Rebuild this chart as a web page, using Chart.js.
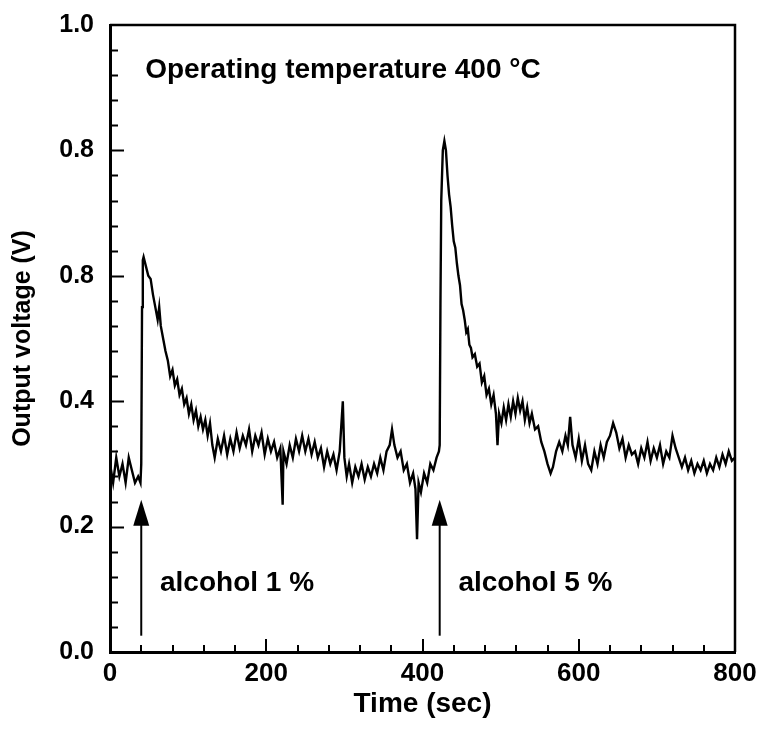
<!DOCTYPE html>
<html>
<head>
<meta charset="utf-8">
<script src="https://cdn.jsdelivr.net/npm/chart.js@4"></script>
<style>
  body { margin: 0; background: #fff; }
</style>
</head>
<body>
<canvas id="myChart" width="763" height="745"></canvas>
<script>
// time axis (sec) and sensor output (V)
var timeSec = [
  0, 4, 8, 12, 16, 20, 24, 28, 32, 36,
  39, 40, 41, 42, 43, 46, 49, 52, 55, 58,
  61, 63, 65, 68, 71, 74, 77, 80, 83, 86,
  89, 92, 95, 98, 101, 104, 107, 110, 113, 116,
  119, 122, 125, 128, 131, 134, 138, 142, 146, 150,
  154, 158, 162, 166, 170, 174, 178, 182, 186, 190,
  194, 198, 202, 206, 210, 214, 218, 221, 222, 226,
  230, 234, 238, 242, 246, 250, 254, 258, 262, 266,
  270, 274, 278, 282, 286, 290, 294, 298, 300, 303,
  306, 310, 314, 318, 322, 326, 330, 334, 338, 342,
  346, 350, 354, 358, 361, 364, 368, 372, 376, 380,
  384, 388, 391, 393, 395, 398, 402, 406, 410, 414,
  418, 421, 422, 423, 424, 426, 428, 430, 432, 434,
  436, 438, 440, 442, 444, 446, 448, 450, 452, 454,
  456, 458, 460, 462, 464, 467, 470, 473, 476, 479,
  482, 485, 488, 491, 494, 496, 498, 501, 504, 507,
  510, 513, 516, 519, 522, 525, 528, 531, 534, 537,
  540, 544, 548, 552, 556, 560, 564, 567, 571, 575,
  579, 583, 586, 589, 592, 596, 600, 604, 608, 612,
  616, 620, 624, 628, 632, 636, 640, 644, 648, 652,
  656, 660, 664, 668, 672, 676, 680, 684, 688, 692,
  696, 700, 704, 708, 712, 716, 720, 724, 728, 732,
  736, 740, 744, 748, 752, 756, 760, 764, 768, 772,
  776, 780, 784, 788, 792, 796, 800
]
var outputVoltage = [
  0.30, 0.27, 0.31, 0.28, 0.30, 0.27, 0.31, 0.29, 0.27, 0.28,
  0.27, 0.30, 0.55, 0.625, 0.63, 0.615, 0.60, 0.595, 0.57, 0.55,
  0.53, 0.55, 0.52, 0.50, 0.48, 0.465, 0.44, 0.45, 0.425, 0.435,
  0.41, 0.42, 0.395, 0.405, 0.38, 0.395, 0.37, 0.385, 0.36, 0.375,
  0.355, 0.37, 0.345, 0.365, 0.33, 0.31, 0.34, 0.32, 0.345, 0.315,
  0.34, 0.32, 0.35, 0.325, 0.345, 0.33, 0.355, 0.32, 0.345, 0.33,
  0.35, 0.315, 0.34, 0.32, 0.335, 0.31, 0.325, 0.235, 0.32, 0.30,
  0.33, 0.31, 0.34, 0.32, 0.345, 0.32, 0.34, 0.315, 0.335, 0.31,
  0.325, 0.295, 0.32, 0.30, 0.315, 0.29, 0.32, 0.40, 0.31, 0.28,
  0.30, 0.27, 0.295, 0.28, 0.30, 0.275, 0.295, 0.28, 0.30, 0.285,
  0.31, 0.29, 0.32, 0.33, 0.355, 0.33, 0.31, 0.32, 0.29, 0.30,
  0.27, 0.285, 0.26, 0.18, 0.27, 0.255, 0.285, 0.27, 0.30, 0.29,
  0.31, 0.32, 0.33, 0.56, 0.72, 0.80, 0.815, 0.80, 0.76, 0.73,
  0.71, 0.68, 0.655, 0.645, 0.62, 0.60, 0.585, 0.555, 0.545, 0.53,
  0.51, 0.515, 0.49, 0.485, 0.47, 0.475, 0.455, 0.46, 0.43, 0.44,
  0.41, 0.42, 0.395, 0.41, 0.38, 0.33, 0.38, 0.365, 0.39, 0.37,
  0.395, 0.375, 0.40, 0.38, 0.405, 0.385, 0.40, 0.37, 0.39, 0.365,
  0.38, 0.355, 0.36, 0.335, 0.32, 0.30, 0.285, 0.295, 0.32, 0.335,
  0.32, 0.345, 0.33, 0.375, 0.33, 0.31, 0.34, 0.305, 0.33, 0.30,
  0.29, 0.32, 0.30, 0.33, 0.31, 0.335, 0.345, 0.365, 0.35, 0.325,
  0.34, 0.31, 0.33, 0.315, 0.32, 0.30, 0.325, 0.31, 0.335, 0.305,
  0.325, 0.31, 0.33, 0.30, 0.32, 0.31, 0.345, 0.325, 0.31, 0.295,
  0.31, 0.29, 0.305, 0.285, 0.30, 0.29, 0.305, 0.285, 0.30, 0.29,
  0.31, 0.295, 0.315, 0.30, 0.32, 0.305, 0.31
]

// tick labels as printed on the figure
var xTickLabels = ['0', '200', '400', '600', '800']
var yTickLabels = ['0.0', '0.2', '0.4', '0.8', '0.8', '1.0']

// gas injections marked with arrows
var injectTimes = [40, 422]
var injectLabels = ['alcohol 1 %', 'alcohol 5 %']
var noteText = 'Operating temperature 400 °C'

const FONT = '"Liberation Sans", Arial, Helvetica, sans-serif'

// frame, inward ticks, arrows and texts
const extras = {
    id: 'extras',
    afterDatasetsDraw(chart) {
        const ctx = chart.ctx
        const a = chart.chartArea
        const x = chart.scales.x
        const y = chart.scales.y
        ctx.save()
        ctx.strokeStyle = '#000'
        ctx.fillStyle = '#000'

        ctx.lineWidth = 2.5
        ctx.beginPath()
        ctx.moveTo(a.left, a.top)
        ctx.lineTo(a.right, a.top)
        ctx.lineTo(a.right, a.bottom)
        ctx.stroke()

        ctx.lineWidth = 2
        ctx.beginPath()
        for (let i = 1; i < 25; i++) {
            const py = Math.round(y.getPixelForValue(i * 0.04)) + 0.5
            ctx.moveTo(a.left, py)
            ctx.lineTo(a.left + (i % 5 === 0 ? 14 : 8), py)
        }
        for (let i = 1; i < 20; i++) {
            const px = Math.round(x.getPixelForValue(i * 40))
            ctx.moveTo(px, a.bottom)
            ctx.lineTo(px, a.bottom - (i % 5 === 0 ? 13 : 7))
        }
        ctx.stroke()

        injectTimes.forEach((t, i) => {
            const px = x.getPixelForValue(t)
            const tip = y.getPixelForValue(0.243)
            const foot = y.getPixelForValue(0.026)
            ctx.lineWidth = 2
            ctx.beginPath()
            ctx.moveTo(px, foot)
            ctx.lineTo(px, tip + 20)
            ctx.stroke()
            ctx.beginPath()
            ctx.moveTo(px, tip)
            ctx.lineTo(px - 8, tip + 26)
            ctx.lineTo(px + 8, tip + 26)
            ctx.closePath()
            ctx.fill()

            ctx.font = 'bold 28px ' + FONT
            ctx.textAlign = 'left'
            ctx.textBaseline = 'alphabetic'
            ctx.fillText(injectLabels[i], x.getPixelForValue(t + 24), y.getPixelForValue(0.098))
        })

        ctx.font = 'bold 28px ' + FONT
        ctx.textAlign = 'left'
        ctx.textBaseline = 'alphabetic'
        ctx.fillText(noteText, x.getPixelForValue(45), y.getPixelForValue(0.915))
        ctx.restore()
    }
}

const ctx = document.getElementById('myChart')

var myChart = new Chart(ctx, {
    type: 'line',
    data: {
        datasets: [{
            data: timeSec.map((t, i) => ({ x: t, y: outputVoltage[i] })),
            borderColor: '#000',
            borderWidth: 2.4,
            pointRadius: 0,
            tension: 0
        }]
    },
    options: {
        responsive: false,
        animation: false,
        devicePixelRatio: 1,
        layout: { padding: { top: 25, right: 28, left: 0, bottom: 0 } },
        plugins: {
            legend: { display: false },
            tooltip: { enabled: false }
        },
        scales: {
            x: {
                type: 'linear',
                min: 0,
                max: 800,
                afterFit(s) {
                    s.height = 93
                    s.paddingLeft = 0
                    s.paddingRight = 0
                },
                grid: { drawOnChartArea: false, drawTicks: false },
                border: { display: true, color: '#000', width: 3 },
                ticks: {
                    stepSize: 200,
                    autoSkip: false,
                    maxRotation: 0,
                    padding: 6,
                    color: '#000',
                    font: { family: FONT, size: 26, weight: 'bold' },
                    callback: (v, i) => xTickLabels[i]
                },
                title: {
                    display: true,
                    text: 'Time (sec)',
                    color: '#000',
                    font: { family: FONT, size: 28, weight: 'bold' },
                    padding: { top: 0, bottom: 24 }
                }
            },
            y: {
                min: 0,
                max: 1,
                afterFit(s) {
                    s.width = 110
                    s.paddingTop = 0
                    s.paddingBottom = 0
                },
                grid: { drawOnChartArea: false, drawTicks: false },
                border: { display: true, color: '#000', width: 3 },
                ticks: {
                    stepSize: 0.2,
                    padding: 16,
                    color: '#000',
                    font: { family: FONT, size: 25, weight: 'bold' },
                    callback: (v, i) => yTickLabels[i]
                },
                title: {
                    display: true,
                    text: 'Output voltage (V)',
                    color: '#000',
                    font: { family: FONT, size: 25, weight: 'bold' },
                    padding: { top: 8, bottom: 0 }
                }
            }
        }
    },
    plugins: [extras]
});
</script>
</body>
</html>
